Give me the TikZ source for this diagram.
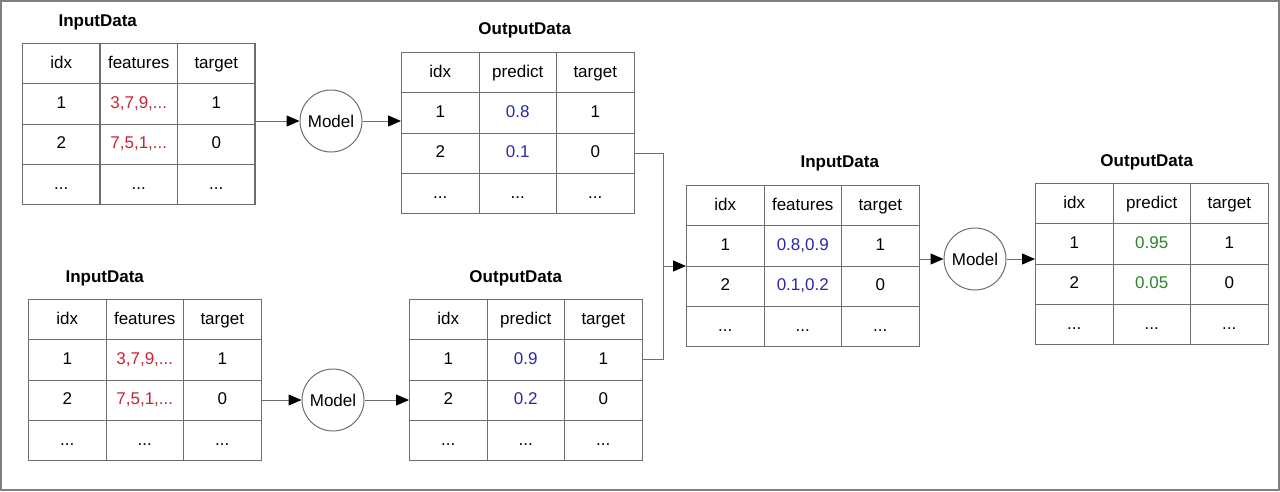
\documentclass[tikz,border=0pt]{standalone}
\usepackage{fontspec}
\setmainfont{Liberation Sans}
\usetikzlibrary{positioning, matrix, calc}
\usetikzlibrary{arrows.meta}
\definecolor{featred}{RGB}{204,34,51}
\definecolor{predblue}{RGB}{40,40,165}
\definecolor{predgreen}{RGB}{45,130,45}
\definecolor{linegray}{RGB}{110,110,110}
\tikzset{myarrow/.style={draw=linegray, line width=1pt, -{Triangle[length=13pt, width=11pt, color=black]}}}
\tikzset{myline/.style={draw=linegray, line width=1pt}}
\tikzset{schrift/.style={font=\fontsize{17}{20}\selectfont}}
\tikzset{titel/.style={font=\fontsize{17}{20}\selectfont\bfseries}}
\tikzset{datatable/.style={matrix of nodes, inner sep=0pt, outer sep=0pt, anchor=north west, column sep=-1pt, row sep=-1pt,
    nodes={draw=linegray, line width=1pt, minimum width=77.5pt, minimum height=40.3pt, text height=12.5pt, text depth=3.5pt,
      inner sep=0pt, outer sep=0pt, anchor=center, schrift}}}
\tikzset{model/.style={circle, draw=linegray, line width=1pt, minimum size=62pt, inner sep=0pt, schrift}}

\begin{document}
\begin{tikzpicture}[x=1pt, y=-1pt]
		\useasboundingbox (0,0) rectangle (1280,491);
		\draw[draw=gray, line width=2pt] (1,1) rectangle (1279,490);
		
		% OBEN
		\matrix[datatable] (inA) at (22,43) {
			idx & features & target \\
			1 & |[text=featred]| 3,7,9,... & 1 \\
			2 & |[text=featred]| 7,5,1,... & 0 \\
			... & ... & ... \\
		};
		\node[titel] (inAText) at ([xshift=-41pt, yshift=21pt]inA.north) {InputData};
		
		\matrix[datatable] (outA) at (401,52) {
			idx & predict & target \\
			1 & |[text=predblue]| 0.8 & 1 \\
			2 & |[text=predblue]| 0.1 & 0 \\
			... & ... & ... \\
		};
		\node[titel] (outAText) at ([xshift=7pt, yshift=22pt]outA.north) {OutputData};
		
		\node[model] (modelA) at (331,121) {Model};
		\draw[myarrow] (inA.east |- modelA) -- (modelA);
		\draw[myarrow] (modelA) -- (outA.west |- modelA);
		
		% UNTEN
		\matrix[datatable] (inB) at (28,299) {
			idx & features & target \\
			1 & |[text=featred]| 3,7,9,... & 1 \\
			2 & |[text=featred]| 7,5,1,... & 0 \\
			... & ... & ... \\
		};
		\node[titel] (inBText) at ([xshift=-40pt, yshift=21pt]inB.north) {InputData};
		
		\matrix[datatable] (outB) at (409,299) {
			idx & predict & target \\
			1 & |[text=predblue]| 0.9 & 1 \\
			2 & |[text=predblue]| 0.2 & 0 \\
			... & ... & ... \\
		};
		\node[titel] (outBText) at ([xshift=-10pt, yshift=21pt]outB.north) {OutputData};
		
		\node[model] (modelB) at (333,400) {Model};
		\draw[myarrow] (inB.east |- modelB) -- (modelB);
		\draw[myarrow] (modelB) -- (outB.west |- modelB);
		
		% RECHTS
		\matrix[datatable] (inC) at (686,185) {
			idx & features & target \\
			1 & |[text=predblue]| 0.8,0.9 & 1 \\
			2 & |[text=predblue]| 0.1,0.2 & 0 \\
			... & ... & ... \\
		};
		\node[titel] (inCText) at ([xshift=37pt, yshift=22pt]inC.north) {InputData};
		
		\matrix[datatable] (outC) at (1035,183) {
			idx & predict & target \\
			1 & |[text=predgreen]| 0.95 & 1 \\
			2 & |[text=predgreen]| 0.05 & 0 \\
			... & ... & ... \\
		};
		\node[titel] (outCText) at ([xshift=-5pt, yshift=21pt]outC.north) {OutputData};
		
		\node[model] (modelC) at (975,259) {Model};
		\draw[myarrow] (inC.east |- modelC) -- (modelC);
		\draw[myarrow] (modelC) -- (outC.west |- modelC);
		
		% ZUSAMMENFUEHRUNG
		\coordinate (join) at (663,266);
		\draw[myline] (outA-3-3.east) -| (join);
		\draw[myline] (outB-2-3.east) -| (join);
		\draw[myarrow] (join) -- (inC.west |- join);
		
	\end{tikzpicture}
\end{document}
